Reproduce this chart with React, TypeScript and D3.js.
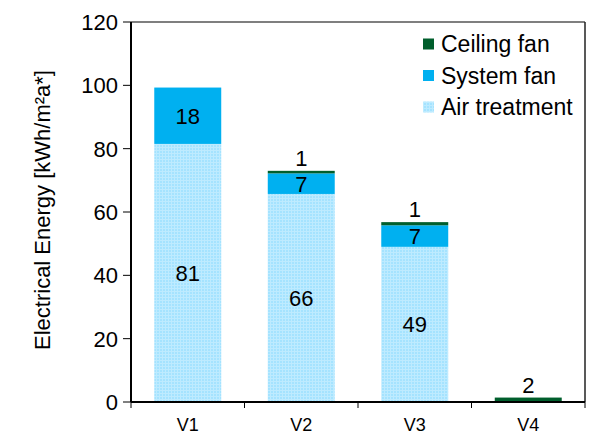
import * as d3 from "d3";

const categories = ["V1", "V2", "V3", "V4"];
const seriesNames = ["Air treatment", "System fan", "Ceiling fan"];
const airTreatment = [81.5, 65.7, 49, 0];
const systemFan = [17.8, 6.5, 6.8, 0];
const ceilingFan = [0, 0.8, 1.0, 1.4];
const airLabels = ["81", "66", "49", ""];
const systemLabels = ["18", "7", "7", ""];
const ceilingLabels = ["", "1", "1", "2"];
const yTicks = [0, 20, 40, 60, 80, 100, 120];

const W = 604;
const H = 434;
const margin = { top: 22, right: 19, bottom: 32, left: 131 };
const font = "Arial, 'Liberation Sans', sans-serif";
const colors: Record<string, string> = {
  "Air treatment": "url(#airPattern)",
  "System fan": "#00B0F0",
  "Ceiling fan": "#005E2C",
};

export default function App() {
  const x = d3
    .scaleBand<string>()
    .domain(categories)
    .range([margin.left, W - margin.right])
    .paddingInner(0.41)
    .paddingOuter(0.205);
  const y = d3
    .scaleLinear()
    .domain([0, 120])
    .range([H - margin.bottom, margin.top]);

  const rows = categories.map((c, i) => ({
    cat: c,
    "Air treatment": airTreatment[i],
    "System fan": systemFan[i],
    "Ceiling fan": ceilingFan[i],
  }));
  const stacked = d3.stack<any>().keys(seriesNames)(rows);

  const x0 = margin.left;
  const x1 = W - margin.right;
  const yBase = y(0);
  const step = x.step();

  const legendItems = ["Ceiling fan", "System fan", "Air treatment"];

  return (
    <svg
      width={W}
      height={H}
      style={{ position: "absolute", left: 0, top: 0, background: "#fff" }}
      fontFamily={font}
    >
      <defs>
        <pattern id="airPattern" width={3} height={3} patternUnits="userSpaceOnUse">
          <rect width={3} height={3} fill="#A5E3FF" />
          <rect width={3} height={1} fill="#BEEBFF" />
          <rect width={1} height={3} fill="#BEEBFF" />
        </pattern>
      </defs>

      {/* frame */}
      <line x1={x0} x2={x1} y1={y(120)} y2={y(120)} stroke="#555" strokeWidth={1.5} />
      <line x1={x1} x2={x1} y1={y(120)} y2={yBase} stroke="#222" strokeWidth={1.5} />

      {/* bars */}
      {stacked.map((s) => (
        <g key={s.key} fill={colors[s.key]}>
          {s.map((d, i) =>
            d[1] - d[0] > 0 ? (
              <rect
                key={i}
                x={x(categories[i])}
                width={x.bandwidth()}
                y={y(d[1])}
                height={y(d[0]) - y(d[1])}
              />
            ) : null
          )}
        </g>
      ))}

      {/* value labels */}
      {categories.map((c, i) => {
        const cx = (x(c) ?? 0) + x.bandwidth() / 2;
        const a = airTreatment[i];
        const s = systemFan[i];
        const top = a + s + ceilingFan[i];
        return (
          <g key={c} fontSize={22} textAnchor="middle" fill="#000">
            {airLabels[i] && (
              <text x={cx} y={y(a / 2)} dy="0.36em">
                {airLabels[i]}
              </text>
            )}
            {systemLabels[i] && (
              <text x={cx} y={y(a + s / 2)} dy="0.36em">
                {systemLabels[i]}
              </text>
            )}
            {ceilingLabels[i] && (
              <text x={cx} y={y(top) - 5}>
                {ceilingLabels[i]}
              </text>
            )}
          </g>
        );
      })}

      {/* y axis */}
      <line x1={x0} x2={x0} y1={y(120)} y2={yBase} stroke="#000" strokeWidth={2} />
      {yTicks.map((t) => (
        <g key={t}>
          <line x1={x0 - 8} x2={x0} y1={y(t)} y2={y(t)} stroke="#000" strokeWidth={1} />
          <text x={x0 - 13} y={y(t)} dy="0.36em" textAnchor="end" fontSize={22}>
            {t}
          </text>
        </g>
      ))}
      <text
        transform={`translate(50,${(y(0) + y(120)) / 2 - 2}) rotate(-90)`}
        textAnchor="middle"
        fontSize={22}
      >
        Electrical Energy [kWh/m²a*]
      </text>

      {/* x axis */}
      <line x1={x0} x2={x1} y1={yBase} y2={yBase} stroke="#000" strokeWidth={2} />
      {d3.range(categories.length + 1).map((i) => (
        <line
          key={i}
          x1={x0 + i * step}
          x2={x0 + i * step}
          y1={yBase}
          y2={yBase + 6}
          stroke="#000"
        />
      ))}
      {categories.map((c) => (
        <text
          key={c}
          x={(x(c) ?? 0) + x.bandwidth() / 2}
          y={431}
          textAnchor="middle"
          fontSize={18}
        >
          {c}
        </text>
      ))}

      {/* legend */}
      {legendItems.map((k, i) => {
        const cy = 44 + i * 31.5;
        return (
          <g key={k}>
            <rect x={423} y={cy - 5.5} width={11} height={11} fill={colors[k]} />
            <text x={441} y={cy} dy="0.36em" fontSize={23}>
              {k}
            </text>
          </g>
        );
      })}
    </svg>
  );
}
